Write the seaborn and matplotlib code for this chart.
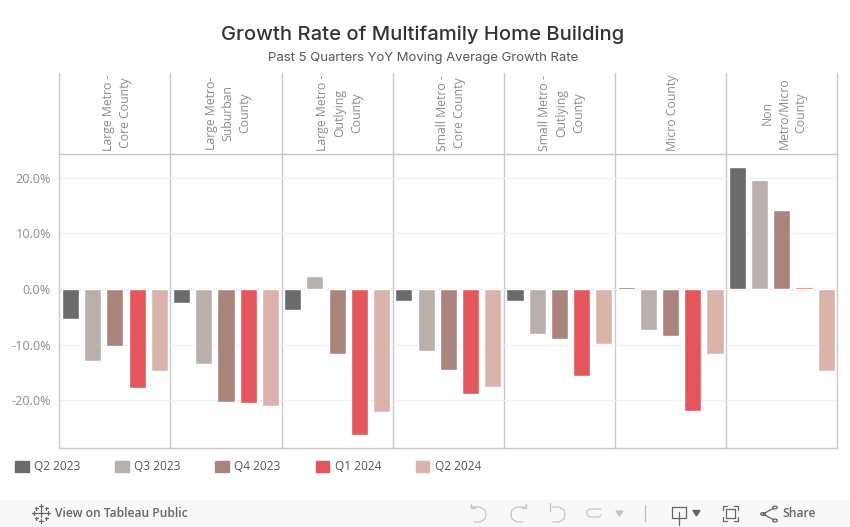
import pandas as pd
import numpy as np
import matplotlib
matplotlib.use('Agg')
import matplotlib.pyplot as plt
from matplotlib.lines import Line2D
from matplotlib.patches import Patch, Rectangle, Polygon, Circle
from matplotlib.transforms import blended_transform_factory
import seaborn as sb

quarters = ['Q2 2023', 'Q3 2023', 'Q4 2023', 'Q1 2024', 'Q2 2024']
counties = ['Large Metro -\nCore County', 'Large Metro-\nSuburban\nCounty', 'Large Metro -\nOutlying\nCounty',
            'Small Metro -\nCore County', 'Small Metro -\nOutlying\nCounty', 'Micro County',
            'Non\nMetro/Micro\nCounty']
colors = ['#6b6b6b', '#b9b0ac', '#a9857e', '#e3565b', '#dab4ac']

large_core = [-5.4, -12.9, -10.2, -17.8, -14.7]
large_suburban = [-2.5, -13.5, -20.3, -20.5, -21.0]
large_outlying = [-3.8, 2.3, -11.7, -26.2, -22.1]
small_core = [-2.2, -11.1, -14.6, -18.9, -17.6]
small_outlying = [-2.2, -8.1, -9.0, -15.6, -9.9]
micro = [0.4, -7.4, -8.4, -21.9, -11.7]
non_metro = [21.9, 19.6, 14.2, 0.3, -14.7]
yticks = [-20, -10, 0, 10, 20]

W, H = 850.0, 527.0
GRID = '#c9c9c9'
TEXT = '#8c8c8c'


def fx(x):
	return x / W


def fy(y):
	return 1 - y / H


sb.set_theme(style='white')
plt.rcParams['font.family'] = ['Open Sans', 'DejaVu Sans']

rows = []
for county, vals in zip(counties, [large_core, large_suburban, large_outlying, small_core,
                                   small_outlying, micro, non_metro]):
	for q, v in zip(quarters, vals):
		rows.append({'county': county, 'quarter': q, 'growth': v})
df = pd.DataFrame(rows)

g = sb.catplot(data=df, kind='bar', x='quarter', y='growth', hue='quarter', col='county',
               order=quarters, hue_order=quarters, palette=colors, col_order=counties,
               width=0.77, saturation=1, legend=False, sharey=True, height=3, aspect=0.4)
fig = g.figure
fig.set_size_inches(8.5, 5.27)
fig.subplots_adjust(left=fx(59.3), right=fx(837.3), top=fy(154), bottom=fy(448), wspace=0)
g.set_titles('')
g.set_axis_labels('', '')

for i, (ax, county) in enumerate(zip(g.axes.flat, counties)):
	ax.set_xlim(-0.5, 4.5)
	ax.set_ylim(-28.57, 24.26)
	ax.set_xticks([])
	ax.set_yticks(yticks)
	ax.set_axisbelow(True)
	ax.patch.set_alpha(0)
	ax.grid(axis='y', color='#f2f2f2', lw=1)
	ax.axhline(0, color='#b5b5b5', lw=1, ls=(0, (1, 2)), zorder=0.5)
	for s in ax.spines.values():
		s.set_visible(True)
		s.set_color(GRID)
		s.set_linewidth(1)
	ax.spines['left'].set_visible(i == 0)
	ax.tick_params(axis='y', length=0, labelleft=(i == 0), labelsize=9.1, labelcolor=TEXT, pad=6)
	if i == 0:
		ax.set_yticklabels(['%.1f%%' % t for t in yticks])
	ax.text(0.52, fy(113), county, transform=blended_transform_factory(ax.transAxes, fig.transFigure),
	        rotation=90, ha='center', va='center', ma='center', fontsize=8.8, color=TEXT,
	        linespacing=1.4, clip_on=False)

# header lines above the panes
for k in range(8):
	x = 59.3 + k * 111.14
	fig.add_artist(Line2D([fx(x), fx(x)], [fy(73), fy(154)], color=GRID, lw=1))

fig.text(fx(423), fy(35), 'Growth Rate of Multifamily Home Building', ha='center', va='center',
         fontsize=14.5, color='#333333', family=['Inter', 'DejaVu Sans'], fontweight='medium')
fig.text(fx(423), fy(58.5), 'Past 5 Quarters YoY Moving Average Growth Rate', ha='center', va='center',
         fontsize=9.43, color='#555555', family=['Inter', 'DejaVu Sans'])

handles = [Patch(color=c, label=q) for c, q in zip(colors, quarters)]
fig.legend(handles=handles, ncol=5, loc='center left', bbox_to_anchor=(fx(15), fy(467)), frameon=False,
           fontsize=8.6, labelcolor='#555555', handlelength=1.15, handleheight=1.15, handletextpad=0.45,
           columnspacing=2.9, borderpad=0, borderaxespad=0)

# toolbar at the bottom
fig.add_artist(Rectangle((0, 0), 1, fy(500), transform=fig.transFigure, color='#f8f8f8', zorder=-1))
ICON = '#c4c4c4'
DARK = '#666666'


def seg(xs, ys, color=DARK, lw=0.9):
	fig.add_artist(Line2D([fx(x) for x in xs], [fy(y) for y in ys], color=color, lw=lw))


for cx, cy, r in [(41, 513, 4), (41, 505.5, 2), (41, 520.5, 2), (34, 513, 2), (48, 513, 2),
                  (36, 508, 1.5), (46, 508, 1.5), (36, 518, 1.5), (46, 518, 1.5)]:
	seg([cx - r, cx + r], [cy, cy])
	seg([cx, cx], [cy - r, cy + r])
fig.text(fx(55), fy(513.5), 'View on Tableau Public', ha='left', va='center', fontsize=8.7,
         color=DARK, fontweight='semibold')
fig.text(fx(782), fy(513.5), 'Share', ha='left', va='center', fontsize=8.7, color=DARK, fontweight='semibold')

# undo, redo, revert, refresh
seg([471, 480, 485, 486, 485, 480, 474], [507, 507, 510, 514, 519, 522, 522], ICON)
seg([471, 471, 475], [504, 508, 508], ICON)
seg([526, 517, 512, 511, 512, 517, 523], [507, 507, 510, 514, 519, 522, 522], ICON)
seg([526, 526, 522], [504, 508, 508], ICON)
seg([552, 559, 564, 565, 564, 559, 553], [507, 507, 510, 514, 519, 522, 522], ICON)
seg([550, 550], [503, 511], ICON)
seg([601, 590, 587, 587, 590, 599, 601], [509, 509, 511, 515, 517, 517, 515], ICON)
fig.add_artist(Polygon([(fx(616), fy(511)), (fx(623), fy(511)), (fx(619.5), fy(516))], transform=fig.transFigure, color=ICON))
seg([645, 645], [505, 521], '#bbbbbb')
seg([672, 672, 686, 686, 672], [507, 518, 518, 507, 507], DARK)
seg([679, 679], [512, 525], DARK)
fig.add_artist(Polygon([(fx(693), fy(510.5)), (fx(700), fy(510.5)), (fx(696.5), fy(516))], transform=fig.transFigure, color=DARK))
seg([723, 723, 727], [510, 506, 506], DARK)
seg([734, 738, 738], [506, 506, 510], DARK)
seg([723, 723, 727], [517, 521, 521], DARK)
seg([734, 738, 738], [521, 521, 517], DARK)
seg([726, 726, 735, 735, 726], [509, 518, 518, 509, 509], DARK)
seg([774, 763, 774], [508, 514, 520], DARK)
for cx, cy in [(775, 507.5), (763, 514), (775, 520.5)]:
	fig.add_artist(Circle((fx(cx), fy(cy)), 0.0027, transform=fig.transFigure, facecolor='#f8f8f8', edgecolor=DARK, lw=0.9))

fig.savefig('out.png', dpi=100)
